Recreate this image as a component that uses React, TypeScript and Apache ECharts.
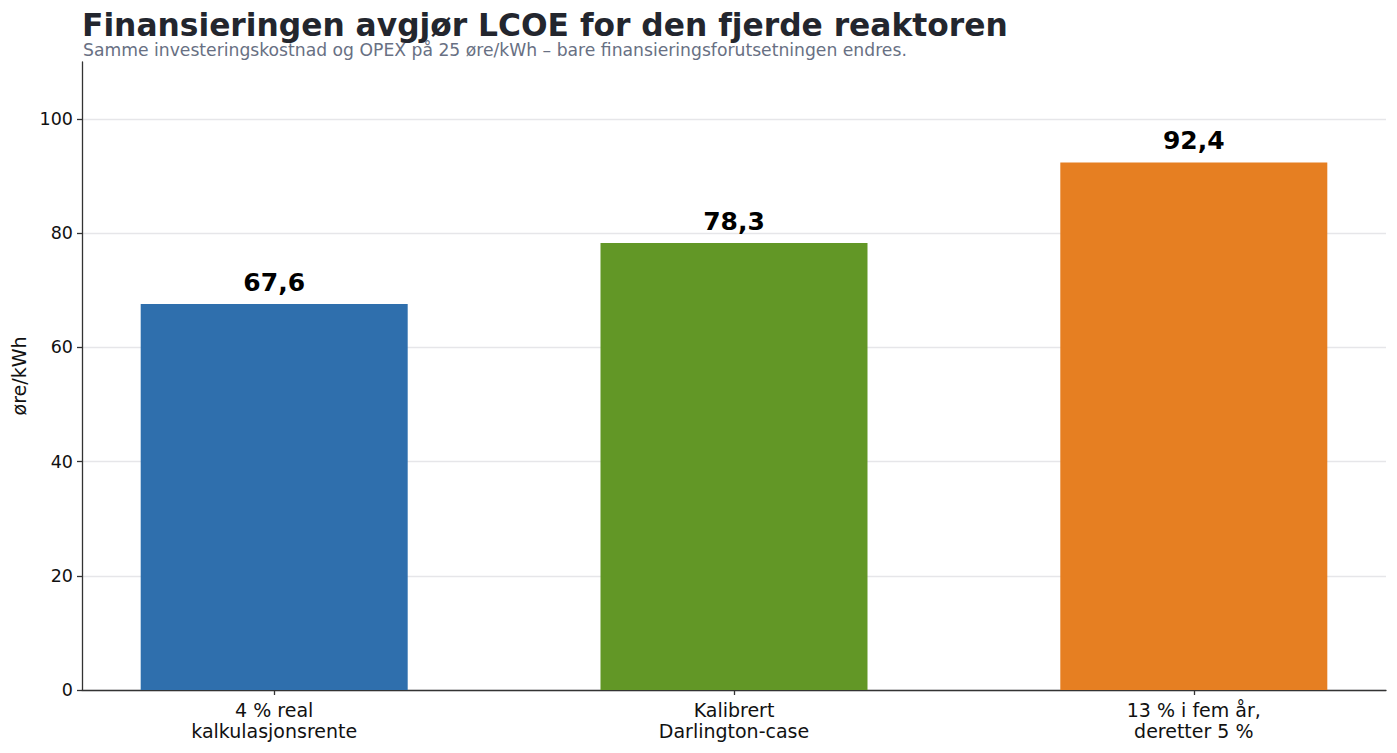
import React, { useEffect, useRef } from "react";
import * as echarts from "echarts";

const categories = ["4 % real\nkalkulasjonsrente", "Kalibrert\nDarlington-case", "13 % i fem år,\nderetter 5 %"];
const values = [67.6, 78.3, 92.4];
const colors = ["#2f6fad", "#629726", "#e67f22"];
const yTicks = [0, 20, 40, 60, 80, 100];
const xTicks = [0, 1, 2];

const FONT = "DejaVu Sans";

export default function App() {
  const ref = useRef<HTMLDivElement>(null);
  useEffect(() => {
    if (!ref.current) return;
    const chart = echarts.init(ref.current, undefined, { renderer: "svg" });
    chart.setOption({
      animation: false,
      backgroundColor: "#ffffff",
      textStyle: { fontFamily: FONT },
      title: [
        {
          text: "Finansieringen avgjør LCOE for den fjerde reaktoren",
          left: 77,
          top: 4,
          textStyle: { fontFamily: FONT, fontWeight: "bold", fontSize: 31.3, color: "#23262e" },
        },
        {
          text: "Samme investeringskostnad og OPEX på 25 øre/kWh – bare finansieringsforutsetningen endres.",
          left: 78,
          top: 36,
          textStyle: { fontFamily: FONT, fontWeight: "normal", fontSize: 17.2, color: "#687083" },
        },
      ],
      grid: { left: 82, right: 11, top: 62, bottom: 63, containLabel: false },
      xAxis: {
        type: "value",
        min: -0.418,
        max: 2.418,
        splitLine: { show: false },
        axisLine: { show: true, onZero: false, lineStyle: { color: "#333333", width: 1.3 } },
        axisTick: { show: true, customValues: xTicks, length: 5, lineStyle: { color: "#333333", width: 1.3 } },
        axisLabel: {
          customValues: xTicks,
          formatter: (v: number) => categories[Math.round(v)] ?? "",
          fontFamily: FONT,
          fontSize: 19,
          color: "#111111",
          lineHeight: 21,
          margin: 9,
        },
      },
      yAxis: {
        type: "value",
        min: 0,
        max: 110,
        name: "øre/kWh",
        nameLocation: "middle",
        nameGap: 52,
        nameTextStyle: { fontFamily: FONT, fontSize: 19, color: "#111111" },
        axisLine: { show: true, onZero: false, lineStyle: { color: "#333333", width: 1.3 } },
        axisTick: { show: true, customValues: yTicks, length: 5, lineStyle: { color: "#333333", width: 1.3 } },
        axisLabel: {
          customValues: yTicks,
          fontFamily: FONT,
          fontSize: 17.5,
          color: "#111111",
          margin: 9,
        },
        splitLine: { show: true, lineStyle: { color: "#e6e6e9", width: 1.3 } },
      },
      series: [
        {
          type: "bar",
          barWidth: 267,
          data: values.map((v, i) => ({ value: [i, v], itemStyle: { color: colors[i] } })),
          label: {
            show: true,
            position: "top",
            distance: 9,
            formatter: (p: any) => String(p.value[1]).replace(".", ","),
            fontFamily: FONT,
            fontWeight: "bold",
            fontSize: 25,
            color: "#000000",
          },
        },
      ],
    });
    return () => chart.dispose();
  }, []);
  return <div ref={ref} style={{ width: 1397, height: 753, position: "absolute", left: 0, top: 0 }} />;
}
